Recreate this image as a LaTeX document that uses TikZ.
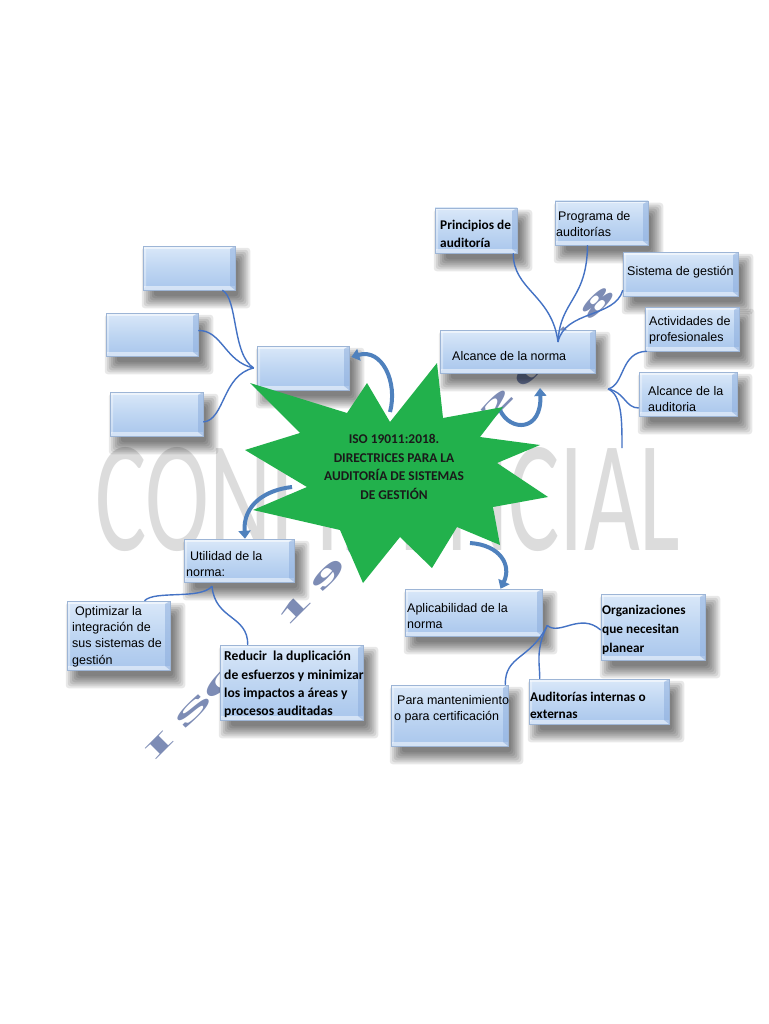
\documentclass[tikz,border=0pt]{standalone}
\usepackage{graphicx}
\usepackage{fontspec}
\setmainfont{Liberation Sans}
\newfontfamily\calb{Carlito}
\newfontfamily\tnr{Liberation Serif}
\usetikzlibrary{arrows.meta}
\pgfdeclarelayer{back}
\pgfdeclarelayer{shadow}
\pgfsetlayers{back,shadow,main}
\definecolor{boxtop}{HTML}{DAE8F9}
\definecolor{boxmid}{HTML}{BFD6F2}
\definecolor{boxbot}{HTML}{A9C6EC}
\definecolor{boxedge}{HTML}{9DB5D6}
\definecolor{boxdark}{HTML}{8DAEDD}
\definecolor{connc}{HTML}{4472C4}
\definecolor{arrowc}{HTML}{4F81BD}
\definecolor{stargreen}{HTML}{22B14C}
\definecolor{wmc}{HTML}{DCDCDC}
\definecolor{isoc}{HTML}{7D8CB5}
\definecolor{startext}{HTML}{1A1A1A}
\tikzset{
  bx/.style={rectangle, draw=boxedge, line width=0.5pt, top color=boxtop, bottom color=boxbot, middle color=boxmid, inner sep=0pt,
    path picture={
      \fill[white,opacity=.5] (path picture bounding box.south west) rectangle ([yshift=4pt]path picture bounding box.south east);
      \fill[white,opacity=.55] (path picture bounding box.north west) rectangle ([yshift=-2.5pt]path picture bounding box.north east);
      \fill[boxdark,opacity=.55] (path picture bounding box.north east) -- ([xshift=-5pt,yshift=-3pt]path picture bounding box.north east) -- ([xshift=-5pt,yshift=4pt]path picture bounding box.south east) -- (path picture bounding box.south east) -- cycle;
      \fill[white,opacity=.35] (path picture bounding box.north west) -- ([xshift=3pt,yshift=-3pt]path picture bounding box.north west) -- ([xshift=3pt,yshift=4pt]path picture bounding box.south west) -- (path picture bounding box.south west) -- cycle;
    }},
  tx/.style={anchor=west, inner sep=0pt, align=left, font=\fontsize{12.5}{16}\selectfont},
  tb/.style={anchor=west, inner sep=0pt, align=left, font=\calb\bfseries\fontsize{13.3}{18.5}\selectfont},
  conn/.style={draw=connc, line width=1.4pt},
  bigarrow/.style={draw=arrowc, line width=4pt, -{Triangle[length=8pt,width=12pt]}},
}
\newcommand\castshadow[1]{%
  \foreach \a/\b/\c/\d in {11/-14/3/-6, 9/-12/5/-8, 7/-10/7/-10, 5/-8/9/-12, 3/-6/11/-14, 1/-4/13/-16, -1/-2/15/-18}{%
    \fill[black,opacity=.09,rounded corners=3pt] ([xshift=\a pt,yshift=\b pt]#1.north west) rectangle ([xshift=\c pt,yshift=\d pt]#1.south east);
  }}
\begin{document}
\begin{tikzpicture}[x=1pt,y=-1pt]
\useasboundingbox (0,0) rectangle (768,1024);

% background and watermarks
\begin{pgfonlayer}{back}
\fill[white] (0,0) rectangle (768,1024);
\node[anchor=north west, inner sep=0pt, text=wmc] (wmk) at (95,447) {\resizebox{585pt}{103pt}{\calb CONFIDENCIAL}};
\foreach \k/\c in {0/I,1/S,2/O,4/1,5/9,6/0,7/1,8/1,9/:,10/2,11/0,12/1,13/8}{
  \node[inner sep=0pt, text=isoc] (iso\k) at ({160+33.7*\k},{745-34*\k}) {\rotatebox{45}{\scalebox{1.3}[0.4]{\tnr\bfseries\fontsize{60}{60}\selectfont \c}}};
}
\end{pgfonlayer}

% boxes
\node[bx, minimum width=92pt, minimum height=44pt] (bA) at (189,268) {};
\node[bx, minimum width=92pt, minimum height=43pt] (bB) at (152,334.5) {};
\node[bx, minimum width=93pt, minimum height=44pt] (bC) at (156.5,414) {};
\node[bx, minimum width=92pt, minimum height=44pt] (bD) at (303,368) {};
\node[bx, minimum width=82pt, minimum height=45pt] (pri) at (476,230.5) {};
\node[bx, minimum width=93pt, minimum height=44pt] (pro) at (601.5,223) {};
\node[bx, minimum width=115pt, minimum height=44pt] (sis) at (680.5,274) {};
\node[bx, minimum width=94pt, minimum height=44pt] (act) at (692,329) {};
\node[bx, minimum width=155pt, minimum height=43pt] (alc) at (517.5,351.5) {};
\node[bx, minimum width=98pt, minimum height=44pt] (ala) at (688,394) {};
\node[bx, minimum width=110pt, minimum height=43pt] (uti) at (239,560.5) {};
\node[bx, minimum width=103pt, minimum height=69pt] (opt) at (118.5,635.5) {};
\node[bx, minimum width=143pt, minimum height=75pt] (red) at (291.5,682.5) {};
\node[bx, minimum width=137pt, minimum height=47pt] (apl) at (473.5,612.5) {};
\node[bx, minimum width=104pt, minimum height=66pt] (org) at (653,627) {};
\node[bx, minimum width=117pt, minimum height=61pt] (para) at (449.5,715.5) {};
\node[bx, minimum width=140pt, minimum height=45pt] (aud) at (599,701.5) {};

\begin{pgfonlayer}{shadow}
\foreach \n in {bA,bB,bC,bD,pri,pro,sis,act,alc,ala,uti,opt,red,apl,org,para,aud}{\castshadow{\n}}
\end{pgfonlayer}

% texts
\node[tb] (pri-t) at (440,234) {Principios de\\auditoría};
\node[tx] (pro-t) at (556,224) {\hspace*{2pt}Programa de\\auditorías};
\node[tx] (sis-t) at (627,272) {Sistema de gestión};
\node[tx] (act-t) at (649,330) {Actividades de\\profesionales};
\node[tx] (alc-t) at (452,356) {Alcance de la norma};
\node[tx] (ala-t) at (648,399) {Alcance de la\\auditoria};
\node[tx] (uti-t) at (186,564) {\hspace*{4pt}Utilidad de la\\norma:};
\node[tx, font=\fontsize{12.5}{16.3}\selectfont] (opt-t) at (72,636.5) {\hspace*{3pt}Optimizar la\\integración de\\sus sistemas de\\gestión};
\node[tb, font=\calb\bfseries\fontsize{13.6}{18.3}\selectfont] (red-t) at (224,684.5) {Reducir\ \ la duplicación\\de esfuerzos y minimizar\\los impactos a áreas y\\procesos auditadas};
\node[tx] (apl-t) at (407,616.5) {Aplicabilidad de la\\norma};
\node[tb, font=\calb\bfseries\fontsize{13.3}{19}\selectfont] (org-t) at (602,630) {Organizaciones\\que necesitan\\planear};
\node[tx] (para-t) at (394,709) {\hspace*{3pt}Para mantenimiento\\o para certificación};
\node[tb, font=\calb\bfseries\fontsize{13.3}{17}\selectfont] (aud-t) at (530,705.5) {Auditorías internas o\\externas};

% junctions
\coordinate (jA) at (558,342);
\coordinate (jR) at (608,389);
\coordinate (fe) at (622,448);
\coordinate (jL) at ([xshift=-3pt]bD.west);
\coordinate (jU) at ([xshift=-27pt,yshift=-4pt]uti.south);
\coordinate (jP) at ([xshift=5pt,yshift=-13pt]apl.east);

% connectors
\draw[conn] ([xshift=-4pt]pri.south east) .. controls (513,290) and (552,295) .. (jA);
\draw[conn] ([xshift=-14pt]pro.south) .. controls (587,300) and (560,300) .. (jA);
\draw[conn] ([yshift=6pt]sis.south west) .. controls (615,318) and (565,310) .. (jA);
\draw[conn] ([xshift=2pt]act.south west) .. controls (620,352) and (625,385) .. (jR);
\draw[conn] (jR) .. controls (625,392) and (625,408) .. ([yshift=-14pt]ala.west);
\draw[conn] (jR) .. controls (622,395) and (622,420) .. (fe);
\draw[conn] ([xshift=-13pt]bA.south east) .. controls (238,298) and (232,355) .. (jL);
\draw[conn] ([yshift=4pt]bB.east) .. controls (222,330) and (225,362) .. (jL);
\draw[conn] ([yshift=-8pt]bC.east) .. controls (225,420) and (222,375) .. (jL);
\draw[conn] (jU) .. controls (200,600) and (155,590) .. ([xshift=26pt]opt.north);
\draw[conn] (jU) .. controls (215,620) and (248,615) .. ([xshift=28pt]red.north west);
\draw[conn] (jP) .. controls (560,636) and (580,612) .. ([yshift=-3pt]org.west);
\draw[conn] (jP) .. controls (530,660) and (505,655) .. ([xshift=-3pt]para.north east);
\draw[conn] (jP) .. controls (535,650) and (540,665) .. ([xshift=11pt]aud.north west);

% big curved arrows
\coordinate (s1) at (390,412);
\coordinate (s2) at (500,410);
\coordinate (s3) at (292,487);
\coordinate (s4) at (470,543);
\coordinate (e2) at (540,388);
\draw[bigarrow] (s1) .. controls (398,382) and (382,348) .. ([xshift=2pt,yshift=11pt]bD.east);
\draw[bigarrow] (s2) .. controls (510,432) and (542,432) .. (e2);
\draw[bigarrow] (s3) .. controls (265,490) and (243,505) .. ([xshift=6pt]uti.north);
\draw[bigarrow] (s4) .. controls (500,545) and (512,565) .. ([xshift=27pt]apl.north);

% star
\fill[stargreen] (250,383) -- (347,413) -- (367,383) -- (390,422) -- (437,363) -- (443,418) -- (503,407) -- (480,437) -- (540,445) -- (497,463) -- (548,497) -- (493,507) -- (500,545) -- (457,527) -- (432,568) -- (400,537) -- (363,583) -- (340,530) -- (253,510) -- (307,487) -- (245,450) -- (300,433) -- cycle;
\node[align=center, inner sep=0pt, text=startext, font=\calb\bfseries\fontsize{13.4}{18.5}\selectfont] (core) at (394,467) {ISO 19011:2018.\\DIRECTRICES PARA LA\\AUDITORÍA DE SISTEMAS\\DE GESTIÓN};
\end{tikzpicture}
\end{document}
